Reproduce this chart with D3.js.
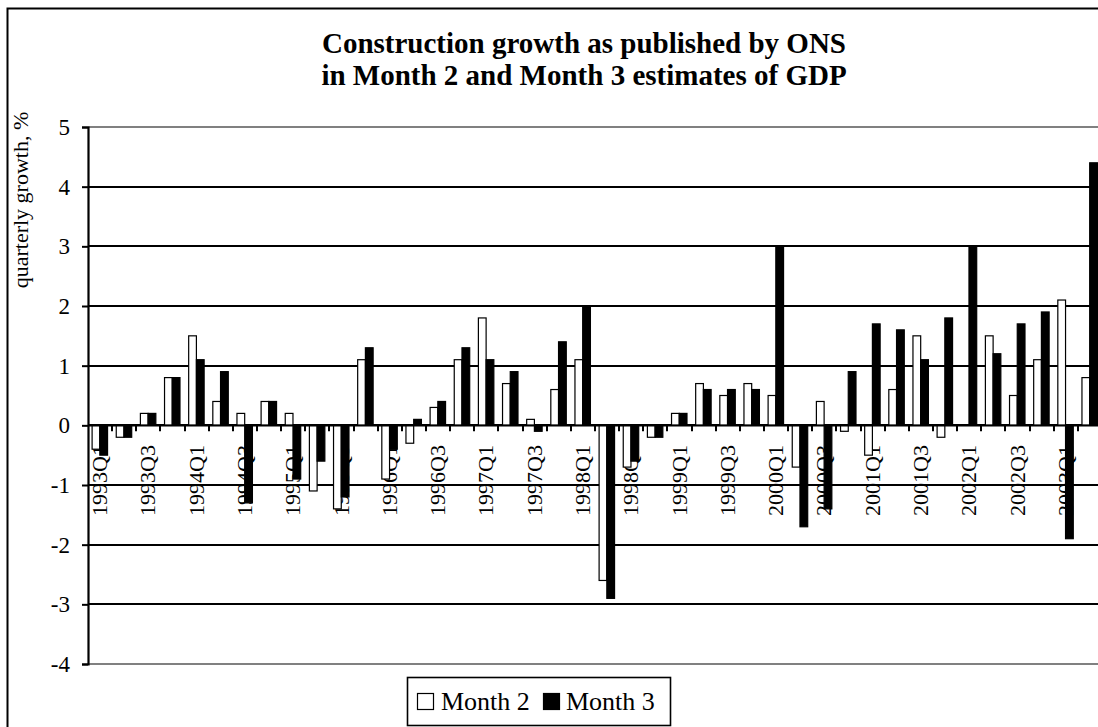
<!DOCTYPE html>
<html>
<head>
<meta charset="utf-8">
<script src="https://cdn.jsdelivr.net/npm/d3@7"></script>
<style>
  html, body { margin: 0; padding: 0; background: #fff; }
  svg { display: block; }
  text { font-family: "Liberation Serif", "Times New Roman", serif; fill: #000; }
</style>
</head>
<body>
<svg id="chart" width="1098" height="727"></svg>
<script>
const quarters = [
  "1993Q1","1993Q2","1993Q3","1993Q4",
  "1994Q1","1994Q2","1994Q3","1994Q4",
  "1995Q1","1995Q2","1995Q3","1995Q4",
  "1996Q1","1996Q2","1996Q3","1996Q4",
  "1997Q1","1997Q2","1997Q3","1997Q4",
  "1998Q1","1998Q2","1998Q3","1998Q4",
  "1999Q1","1999Q2","1999Q3","1999Q4",
  "2000Q1","2000Q2","2000Q3","2000Q4",
  "2001Q1","2001Q2","2001Q3","2001Q4",
  "2002Q1","2002Q2","2002Q3","2002Q4",
  "2003Q1","2003Q2"
];
const month2 = [
  -0.4,-0.2, 0.2, 0.8,
   1.5, 0.4, 0.2, 0.4,
   0.2,-1.1,-1.4, 1.1,
  -0.9,-0.3, 0.3, 1.1,
   1.8, 0.7, 0.1, 0.6,
   1.1,-2.6,-0.7,-0.2,
   0.2, 0.7, 0.5, 0.7,
   0.5,-0.7, 0.4,-0.1,
  -0.5, 0.6, 1.5,-0.2,
   0.0, 1.5, 0.5, 1.1,
   2.1, 0.8
];
const month3 = [
  -0.5,-0.2, 0.2, 0.8,
   1.1, 0.9,-1.3, 0.4,
  -0.9,-0.6,-1.2, 1.3,
  -0.4, 0.1, 0.4, 1.3,
   1.1, 0.9,-0.1, 1.4,
   2.0,-2.9,-0.6,-0.2,
   0.2, 0.6, 0.6, 0.6,
   3.0,-1.7,-1.4, 0.9,
   1.7, 1.6, 1.1, 1.8,
   3.0, 1.2, 1.7, 1.9,
  -1.9, 4.4
];
const yTicks = [5,4,3,2,1,0,-1,-2,-3,-4];
const seriesNames = ["Month 2", "Month 3"];
const titleLines = ["Construction growth as published by ONS", "in Month 2 and Month 3 estimates of GDP"];
const yTitle = "quarterly growth, %";

const svg = d3.select("#chart");
const plot = { left: 88, top: 127, right: 1102, bottom: 664 };

// outer chart border
svg.append("rect")
  .attr("x", 7.5).attr("y", 8.5)
  .attr("width", 1200).attr("height", 800)
  .attr("fill", "#fff").attr("stroke", "#000").attr("stroke-width", 2);

const x0 = d3.scaleBand().domain(quarters).range([plot.left, plot.right]).padding(0);
const bw = x0.bandwidth();
const x1 = d3.scaleBand().domain(seriesNames).range([bw * 0.17, bw * 0.81]).padding(0);
const y = d3.scaleLinear().domain([-4, 5]).range([plot.bottom, plot.top]);

// gridlines
svg.append("g").selectAll("line").data(yTicks).join("line")
  .attr("x1", plot.left).attr("x2", plot.right)
  .attr("y1", d => Math.round(y(d))).attr("y2", d => Math.round(y(d)))
  .attr("stroke", d => (d === 5 || d === -4) ? "#808080" : "#000")
  .attr("stroke-width", 2);

// x labels (drawn under bars)
const labelG = svg.append("g");
quarters.forEach((q, i) => {
  if (i % 2 !== 0) return;
  const cx = x0(q) + bw / 2;
  labelG.append("text")
    .attr("transform", `translate(${cx + 7},445) rotate(-90)`)
    .attr("text-anchor", "end")
    .attr("font-size", 22)
    .text(q);
});

// bars
const data = quarters.map((q, i) => ({ q, vals: [month2[i], month3[i]] }));
const groups = svg.append("g").selectAll("g").data(data).join("g")
  .attr("transform", d => `translate(${x0(d.q)},0)`);
groups.selectAll("rect").data(d => d.vals.map((v, k) => ({ v, k }))).join("rect")
  .filter(d => d.v !== 0)
  .attr("x", d => x1(seriesNames[d.k]))
  .attr("width", x1.bandwidth())
  .attr("y", d => y(Math.max(0, d.v)))
  .attr("height", d => Math.abs(y(d.v) - y(0)))
  .attr("fill", d => d.k === 0 ? "#fff" : "#000")
  .attr("stroke", "#000")
  .attr("stroke-width", 1.2);

// x axis at zero with ticks between categories
const xAxis = d3.axisBottom(x0).tickSize(0).tickFormat("");
svg.append("g").attr("transform", `translate(0,${Math.round(y(0))})`)
  .call(xAxis)
  .call(g => g.select(".domain").attr("stroke", "#000").attr("stroke-width", 2));
svg.append("g").selectAll("line").data(quarters.slice(1)).join("line")
  .attr("x1", d => Math.round(x0(d))).attr("x2", d => Math.round(x0(d)))
  .attr("y1", y(0)).attr("y2", y(0) + 6)
  .attr("stroke", "#000").attr("stroke-width", 2);

// y axis
const yAxis = d3.axisLeft(y).tickValues(yTicks).tickSize(6).tickPadding(12).tickFormat(d => String(d));
const yg = svg.append("g").attr("transform", `translate(${plot.left},0)`).call(yAxis);
yg.select(".domain").attr("stroke", "#000").attr("stroke-width", 2.2);
yg.selectAll(".tick line").attr("stroke", "#000").attr("stroke-width", 2);
yg.selectAll(".tick text").attr("font-size", 23).attr("font-family", "Liberation Serif").attr("fill", "#000");

// y title
svg.append("text")
  .attr("transform", "translate(28,200) rotate(-90)")
  .attr("text-anchor", "middle")
  .attr("font-size", 22)
  .text(yTitle);

// title
svg.append("g").selectAll("text").data(titleLines).join("text")
  .attr("x", 584).attr("y", (d, i) => 53 + i * 32)
  .attr("text-anchor", "middle")
  .attr("font-size", 29)
  .attr("font-weight", "bold")
  .text(d => d);

// legend
const lg = svg.append("g");
lg.append("rect").attr("x", 407.5).attr("y", 677.5).attr("width", 263).attr("height", 48)
  .attr("fill", "#fff").attr("stroke", "#000").attr("stroke-width", 1.6);
const legendPos = [{ sx: 417, tx: 441 }, { sx: 543, tx: 566 }];
seriesNames.forEach((s, k) => {
  lg.append("rect").attr("x", legendPos[k].sx + 0.5).attr("y", 693.5).attr("width", 16).attr("height", 16)
    .attr("fill", k === 0 ? "#fff" : "#000").attr("stroke", "#000").attr("stroke-width", 1.2);
  lg.append("text").attr("x", legendPos[k].tx).attr("y", 710).attr("font-size", 26).text(s);
});
</script>
</body>
</html>
